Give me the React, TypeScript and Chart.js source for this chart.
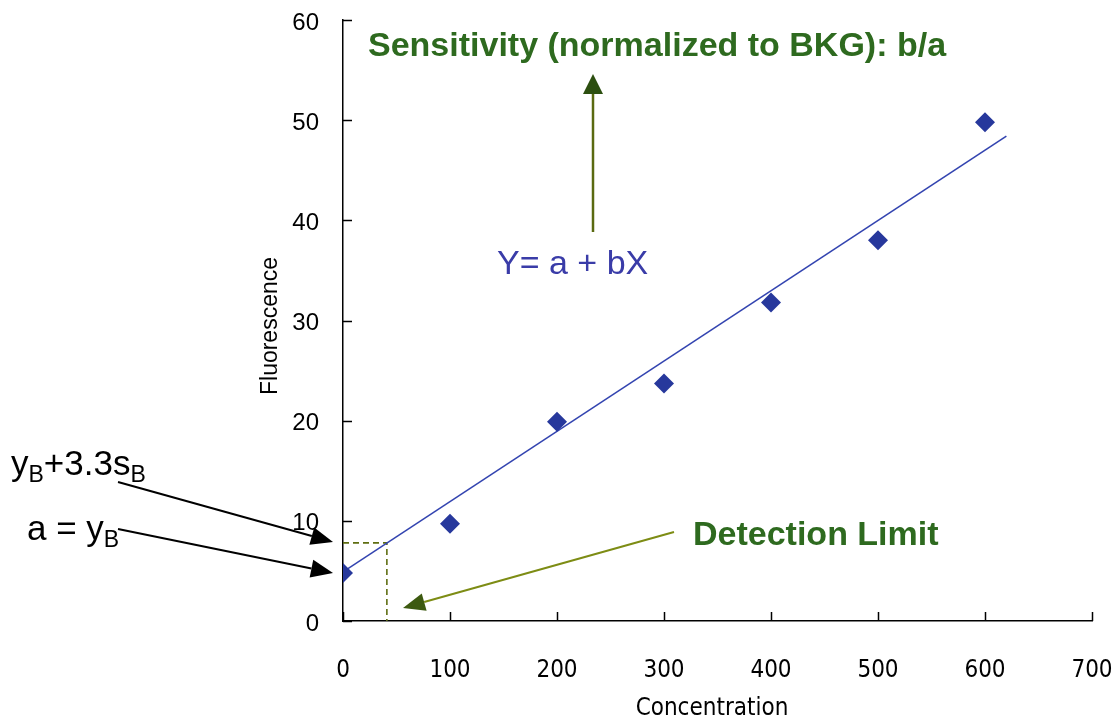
import React, { useEffect, useRef } from "react";
import { Chart, registerables } from "chart.js";

Chart.register(...registerables);

// ---- data ----
const concentration = [0, 100, 200, 300, 400, 500, 600];
const fluorescence = [4.8, 9.7, 19.9, 23.7, 31.8, 38.0, 49.8];
const fitX = [0, 620];
const fitY = [4.9, 48.4];
const limitX = [0, 41, 41];
const limitY = [7.8, 7.8, 0];
const xTicks = [0, 100, 200, 300, 400, 500, 600, 700];
const yTicks = [0, 10, 20, 30, 40, 50, 60];

const MARK = "#27389c";
const LINE = "#3344b0";
const DASH = "#5f6e12";
const GREEN = "#2e6a1f";
const BLUE = "#3a3ca8";
const NARROW = '"Liberation Sans Narrow", "DejaVu Sans Condensed", "Roboto Condensed", "Liberation Sans", sans-serif';
const SANS = '"Liberation Sans", Arial, sans-serif';

type Part = { t: string; sub?: boolean };

function drawRich(ctx: CanvasRenderingContext2D, parts: Part[], x: number, y: number, size: number, color: string) {
  let cx = x;
  ctx.fillStyle = color;
  ctx.textAlign = "left";
  ctx.textBaseline = "alphabetic";
  for (const p of parts) {
    const fs = p.sub ? Math.round(size * 0.66) : size;
    ctx.font = `${fs}px ${SANS}`;
    ctx.fillText(p.t, cx, p.sub ? y + 7 : y);
    cx += ctx.measureText(p.t).width;
  }
}

function arrow(
  ctx: CanvasRenderingContext2D,
  x1: number, y1: number, x2: number, y2: number,
  lineColor: string, headColor: string, lw: number, headLen: number, headHalf: number
) {
  const ang = Math.atan2(y2 - y1, x2 - x1);
  const bx = x2 - Math.cos(ang) * headLen;
  const by = y2 - Math.sin(ang) * headLen;
  ctx.save();
  ctx.strokeStyle = lineColor;
  ctx.lineWidth = lw;
  ctx.beginPath();
  ctx.moveTo(x1, y1);
  ctx.lineTo(bx, by);
  ctx.stroke();
  ctx.fillStyle = headColor;
  ctx.beginPath();
  ctx.moveTo(x2, y2);
  ctx.lineTo(bx + Math.sin(ang) * headHalf, by - Math.cos(ang) * headHalf);
  ctx.lineTo(bx - Math.sin(ang) * headHalf, by + Math.cos(ang) * headHalf);
  ctx.closePath();
  ctx.fill();
  ctx.restore();
}

const annotPlugin = {
  id: "annot",
  afterDraw(chart: any) {
    const ctx: CanvasRenderingContext2D = chart.ctx;
    const xs = chart.scales.x;
    const ys = chart.scales.y;
    const area = chart.chartArea;
    ctx.save();
    // inside tick marks
    ctx.strokeStyle = "#000";
    ctx.lineWidth = 1.5;
    ctx.beginPath();
    for (const v of xTicks) {
      const px = Math.round(xs.getPixelForValue(v)) + 0.5;
      ctx.moveTo(px, area.bottom);
      ctx.lineTo(px, area.bottom - 9);
    }
    for (const v of yTicks) {
      const py = Math.round(ys.getPixelForValue(v)) + 0.5;
      ctx.moveTo(area.left, py);
      ctx.lineTo(area.left + 9, py);
    }
    ctx.stroke();

    // axis titles
    ctx.fillStyle = "#000";
    ctx.font = `24px ${NARROW}`;
    ctx.textAlign = "center";
    ctx.textBaseline = "alphabetic";
    ctx.fillText("Concentration", 712, 715);
    ctx.save();
    ctx.translate(271, 326);
    ctx.rotate(-Math.PI / 2);
    ctx.font = `23px ${SANS}`;
    ctx.textBaseline = "middle";
    ctx.fillText("Fluorescence", 0, 0);
    ctx.restore();

    // annotations
    ctx.textAlign = "left";
    ctx.textBaseline = "alphabetic";
    ctx.fillStyle = GREEN;
    ctx.font = `bold 34px ${SANS}`;
    ctx.fillText("Sensitivity (normalized to BKG): b/a", 368, 56);
    ctx.fillText("Detection Limit", 693, 545);

    ctx.fillStyle = BLUE;
    ctx.font = `34px ${SANS}`;
    ctx.fillText("Y= a + bX", 497, 274);

    drawRich(ctx, [{ t: "y" }, { t: "B", sub: true }, { t: "+3.3s" }, { t: "B", sub: true }], 11, 475, 35, "#000");
    drawRich(ctx, [{ t: "a = y" }, { t: "B", sub: true }], 27, 540, 35, "#000");

    arrow(ctx, 593, 232, 593, 74, "#5a6a10", "#2c4f10", 2.5, 20, 10);
    arrow(ctx, 674, 532, 403, 608, "#7d8c14", "#3d5a10", 2, 22, 9);
    arrow(ctx, 118, 482, 333, 542, "#000", "#000", 2, 22, 9);
    arrow(ctx, 118, 529, 333, 573, "#000", "#000", 2, 22, 9);

    ctx.restore();
  },
};

function zeroPad(s: any) {
  s.paddingTop = 0;
  s.paddingBottom = 0;
  s.paddingLeft = 0;
  s.paddingRight = 0;
}

export default function App() {
  const ref = useRef<HTMLCanvasElement>(null);
  useEffect(() => {
    document.body.style.margin = "0";
    document.body.style.background = "#fff";
    const chart = new Chart(ref.current as HTMLCanvasElement, {
      type: "scatter",
      data: {
        datasets: [
          {
            type: "line",
            label: "fit",
            data: fitX.map((x, i) => ({ x, y: fitY[i] })),
            borderColor: LINE,
            borderWidth: 1.6,
            pointRadius: 0,
            fill: false,
            order: 1,
          } as any,
          {
            type: "line",
            label: "limit",
            data: limitX.map((x, i) => ({ x, y: limitY[i] })),
            borderColor: DASH,
            borderWidth: 1.6,
            borderDash: [6, 4],
            pointRadius: 0,
            fill: false,
            order: 2,
          } as any,
          {
            label: "data",
            data: concentration.map((x, i) => ({ x, y: fluorescence[i] })),
            pointStyle: "rectRot",
            pointRadius: 10,
            pointBackgroundColor: MARK,
            pointBorderColor: MARK,
            pointBorderWidth: 0,
            order: 0,
          } as any,
        ],
      },
      options: {
        animation: false,
        responsive: false,
        layout: { padding: { top: 20, right: 20, left: 0, bottom: 0 } },
        plugins: { legend: { display: false }, tooltip: { enabled: false } },
        scales: {
          x: {
            type: "linear",
            min: 0,
            max: 700,
            afterBuildTicks: (s: any) => {
              s.ticks = xTicks.map((v) => ({ value: v }));
            },
            afterFit: (s: any) => {
              s.height = 98;
              zeroPad(s);
            },
            grid: { display: true, drawOnChartArea: false, drawTicks: false },
            border: { display: true, color: "#000", width: 1.5 },
            ticks: {
              padding: 35,
              color: "#000",
              font: { family: NARROW, size: 24 },
              maxRotation: 0,
              autoSkip: false,
            },
          },
          y: {
            type: "linear",
            min: 0,
            max: 60,
            afterBuildTicks: (s: any) => {
              s.ticks = yTicks.map((v) => ({ value: v }));
            },
            afterFit: (s: any) => {
              s.width = 343;
              zeroPad(s);
            },
            grid: { display: true, drawOnChartArea: false, drawTicks: false },
            border: { display: true, color: "#000", width: 1.5 },
            ticks: {
              padding: 24,
              labelOffset: 3,
              color: "#000",
              font: { family: SANS, size: 24 },
              autoSkip: false,
            },
          },
        },
      },
      plugins: [annotPlugin],
    });
    return () => chart.destroy();
  }, []);
  return (
    <div style={{ width: 1112, height: 719, background: "#fff" }}>
      <canvas ref={ref} width={1112} height={719} style={{ display: "block" }} />
    </div>
  );
}
